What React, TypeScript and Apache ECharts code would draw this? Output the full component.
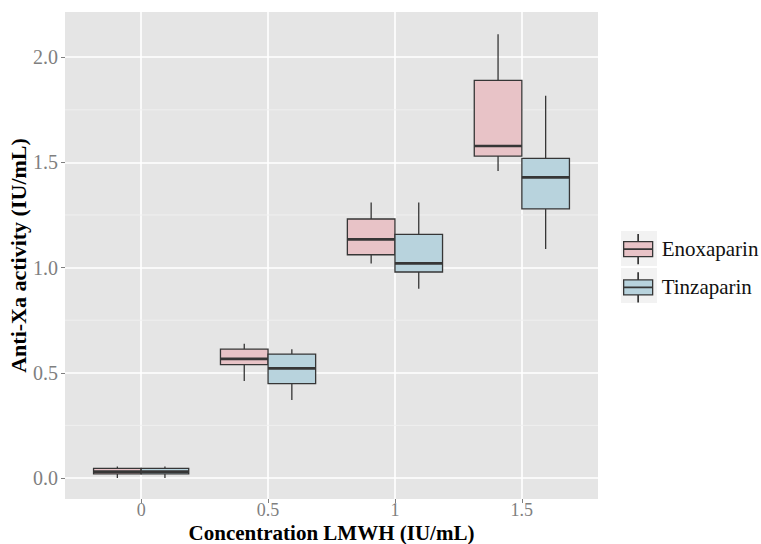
import React, { useEffect, useRef } from "react";
import * as echarts from "echarts";

// Category labels (x axis)
const xLabels = ["0", "0.5", "1", "1.5"];
const yTicks = [0, 0.5, 1.0, 1.5, 2.0];
const yMinorTicks = [0.25, 0.75, 1.25, 1.75];
const seriesNames = ["Enoxaparin", "Tinzaparin"];

// [min, Q1, median, Q3, max] per concentration
const enoxaparin = [
  [0.0, 0.019, 0.03, 0.046, 0.054],
  [0.461, 0.539, 0.566, 0.612, 0.638],
  [1.02, 1.061, 1.134, 1.231, 1.31],
  [1.459, 1.53, 1.578, 1.89, 2.109],
];
const tinzaparin = [
  [0.0, 0.019, 0.03, 0.046, 0.054],
  [0.371, 0.448, 0.521, 0.589, 0.612],
  [0.9, 0.979, 1.02, 1.158, 1.31],
  [1.088, 1.279, 1.429, 1.519, 1.817],
];

const FONT = "'Liberation Serif', 'Times New Roman', serif";
const fills = ["#e8c3c7", "#b8d3dd"];
const edge = "#363636";
const BOX_W = 0.375;

function makeRender(offset: number, fill: string) {
  return (params: any, api: any) => {
    const xc = api.value(0) + offset;
    const pMin = api.coord([xc, api.value(1)]);
    const pQ1 = api.coord([xc, api.value(2)]);
    const pMed = api.coord([xc, api.value(3)]);
    const pQ3 = api.coord([xc, api.value(4)]);
    const pMax = api.coord([xc, api.value(5)]);
    const half = api.size([BOX_W, 0])[0] / 2;
    const x = pMed[0];
    return {
      type: "group",
      children: [
        {
          type: "line",
          shape: { x1: x, y1: pMax[1], x2: x, y2: pQ3[1] },
          style: { stroke: edge, lineWidth: 1.3 },
        },
        {
          type: "line",
          shape: { x1: x, y1: pQ1[1], x2: x, y2: pMin[1] },
          style: { stroke: edge, lineWidth: 1.3 },
        },
        {
          type: "rect",
          shape: { x: x - half, y: pQ3[1], width: half * 2, height: pQ1[1] - pQ3[1] },
          style: { fill, stroke: edge, lineWidth: 1.3 },
        },
        {
          type: "line",
          shape: { x1: x - half, y1: pMed[1], x2: x + half, y2: pMed[1] },
          style: { stroke: edge, lineWidth: 2.6 },
        },
      ],
    };
  };
}

function renderMinor(params: any, api: any) {
  const cs = params.coordSys;
  const y = api.coord([0, api.value(0)])[1];
  return {
    type: "line",
    shape: { x1: cs.x, y1: y, x2: cs.x + cs.width, y2: y },
    style: { stroke: "#f0f0f0", lineWidth: 0.9 },
    silent: true,
  };
}

const legendIcon =
  "path://M0,7 H29 V22 H0 Z M14.3,0 H14.7 V7 H14.3 Z M14.3,22 H14.7 V29 H14.3 Z M0,14.3 H29 V14.7 H0 Z";

export default function App() {
  const ref = useRef<HTMLDivElement>(null);
  useEffect(() => {
    document.body.style.margin = "0";
    const chart = echarts.init(ref.current!, null, { renderer: "svg" });
    const toData = (arr: number[][]) => arr.map((v, i) => [i, ...v]);
    chart.setOption({
      animation: false,
      backgroundColor: "#ffffff",
      textStyle: { fontFamily: FONT },
      grid: {
        left: 65,
        top: 12,
        right: 163,
        bottom: 45,
        show: true,
        backgroundColor: "#e5e5e5",
        borderWidth: 0,
        containLabel: false,
        outerBoundsMode: "none",
      },
      graphic: [
        { type: "rect", shape: { x: 621, y: 231, width: 36, height: 35 }, style: { fill: "#f2f2f2" }, z: -1 },
        { type: "rect", shape: { x: 621, y: 268, width: 36, height: 35 }, style: { fill: "#f2f2f2" }, z: -1 },
      ],
      legend: {
        orient: "vertical",
        left: 623,
        top: 234,
        padding: 0,
        itemWidth: 29,
        itemHeight: 29,
        itemGap: 8,
        icon: legendIcon,
        data: seriesNames,
        itemStyle: { borderColor: edge, borderWidth: 1.3 },
        textStyle: { fontFamily: FONT, fontSize: 21, color: "#111", padding: [0, 0, 0, 4] },
      },
      xAxis: {
        type: "value",
        min: -0.6,
        max: 3.6,
        name: "Concentration LMWH (IU/mL)",
        nameLocation: "middle",
        nameGap: 24,
        nameMoveOverlap: false,
        nameTextStyle: { fontFamily: FONT, fontSize: 21, lineHeight: 19, fontWeight: "bold", color: "#000" },
        axisLine: { show: false, onZero: false },
        axisTick: { show: true, length: 4, customValues: [0, 1, 2, 3], lineStyle: { color: "#7f7f7f", width: 1 } },
        axisLabel: {
          customValues: [0, 1, 2, 3],
          margin: 3,
          lineHeight: 16,
          fontFamily: FONT,
          fontSize: 18,
          color: "#7f7f7f",
          formatter: (v: number) => xLabels[Math.round(v)] ?? "",
        },
        splitLine: { show: true, customValues: [0, 1, 2, 3], lineStyle: { color: "#ffffff", width: 1.6 } },
      },
      yAxis: {
        type: "value",
        min: -0.1,
        max: 2.215,
        name: "Anti-Xa activity (IU/mL)",
        nameLocation: "middle",
        nameGap: 36,
        nameMoveOverlap: false,
        nameTextStyle: { fontFamily: FONT, fontSize: 22, fontWeight: "bold", color: "#000" },
        axisLine: { show: false, onZero: false },
        axisTick: { show: true, length: 4, customValues: yTicks, lineStyle: { color: "#7f7f7f", width: 1 } },
        axisLabel: {
          customValues: yTicks,
          margin: 7,
          fontFamily: FONT,
          fontSize: 20,
          color: "#7f7f7f",
          formatter: (v: number) => v.toFixed(1),
        },
        splitLine: { show: true, customValues: yTicks, lineStyle: { color: "#ffffff", width: 1.6 } },
      },
      series: [
        {
          name: "minor-grid",
          type: "custom",
          renderItem: renderMinor,
          encode: { y: 0 },
          data: yMinorTicks.map((v) => [v]),
          silent: true,
          z: 1,
          tooltip: { show: false },
        },
        {
          name: seriesNames[0],
          type: "custom",
          renderItem: makeRender(-BOX_W / 2, fills[0]),
          itemStyle: { color: fills[0], borderColor: edge },
          encode: { x: 0, y: [1, 2, 3, 4, 5] },
          data: toData(enoxaparin),
          z: 3,
        },
        {
          name: seriesNames[1],
          type: "custom",
          renderItem: makeRender(BOX_W / 2, fills[1]),
          itemStyle: { color: fills[1], borderColor: edge },
          encode: { x: 0, y: [1, 2, 3, 4, 5] },
          data: toData(tinzaparin),
          z: 3,
        },
      ],
    });
    return () => chart.dispose();
  }, []);
  return <div ref={ref} style={{ width: 761, height: 544 }} />;
}
